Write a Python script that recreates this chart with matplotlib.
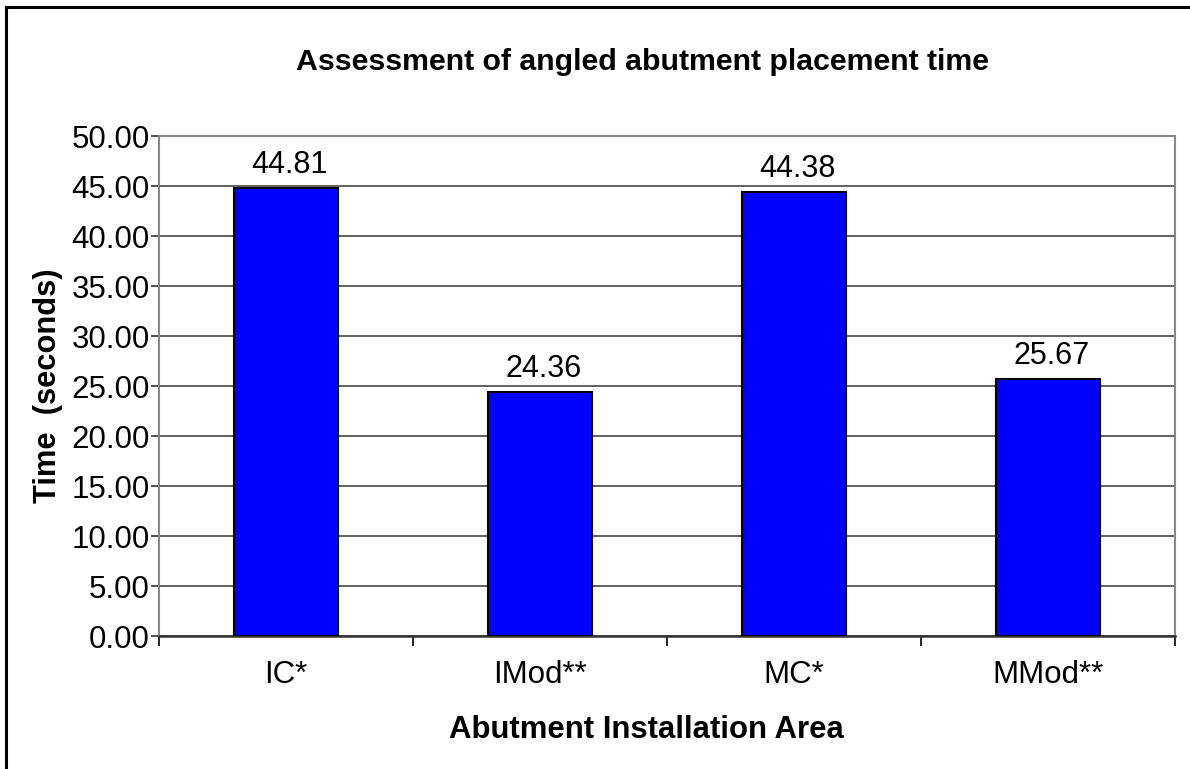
import matplotlib
matplotlib.use("Agg")
import matplotlib.pyplot as plt
from matplotlib.lines import Line2D
from matplotlib.ticker import FixedLocator, FormatStrFormatter

plt.rcParams['font.family'] = ['Liberation Sans', 'DejaVu Sans']

categories = ['IC*', 'IMod**', 'MC*', 'MMod**']
times = [44.81, 24.36, 44.38, 25.67]
yticks = [0, 5, 10, 15, 20, 25, 30, 35, 40, 45, 50]

W, H = 1190, 769
fig = plt.figure(figsize=(W / 100, H / 100), dpi=100)
ax = fig.add_axes([159 / W, 1 - 636 / H, (1175 - 159) / W, (636 - 136) / H])

x = list(range(len(categories)))
bars = ax.bar(x, times, width=0.41, color='#0000FF', edgecolor='black', linewidth=1.5, zorder=3)
for b, v in zip(bars, times):
    ax.text(b.get_x() + b.get_width() / 2 + 0.015, v + 0.8, f'{v:.2f}', ha='center',
            va='bottom', fontsize=22)

ax.set_xlim(-0.5, len(categories) - 0.5)
ax.set_ylim(0, 50)
ax.yaxis.set_major_locator(FixedLocator(yticks))
ax.yaxis.set_major_formatter(FormatStrFormatter('%.2f'))
ax.set_xticks(x)
ax.set_xticklabels(categories)
ax.xaxis.set_minor_locator(FixedLocator([i + 0.5 for i in range(-1, len(categories))]))
ax.tick_params(axis='x', which='major', length=0, pad=17, labelsize=22.5)
ax.tick_params(axis='x', which='minor', length=7, width=1.2, color='black')
ax.tick_params(axis='y', length=6, width=1.2, color='#333333', pad=0.5, labelsize=22.5)
ax.grid(axis='y', color='#555555', linewidth=1.3, zorder=0)

for side in ['top', 'right', 'left']:
    ax.spines[side].set_color('#888888')
    ax.spines[side].set_linewidth(1.5)
ax.spines['bottom'].set_color('#333333')
ax.spines['bottom'].set_linewidth(1.8)

fig.text(643 / W, 1 - 62 / H, 'Assessment of angled abutment placement time', ha='center',
         va='center', fontsize=21.8, fontweight='bold')
fig.text(646 / W, 1 - 730 / H, 'Abutment Installation Area', ha='center', va='center',
         fontsize=22.4, fontweight='bold')
fig.text(48 / W, 1 - 386 / H, 'Time  (seconds)', ha='center', va='center', rotation=90,
         fontsize=22.2, fontweight='bold')

# outer chart frame (cut off at right and bottom)
fig.add_artist(Line2D([6 / W, 6 / W], [0, 1 - 7 / H], color='black', linewidth=2.2))
fig.add_artist(Line2D([6 / W, 1], [1 - 7 / H, 1 - 7 / H], color='black', linewidth=2.2))

fig.savefig('out.png', dpi=100)
